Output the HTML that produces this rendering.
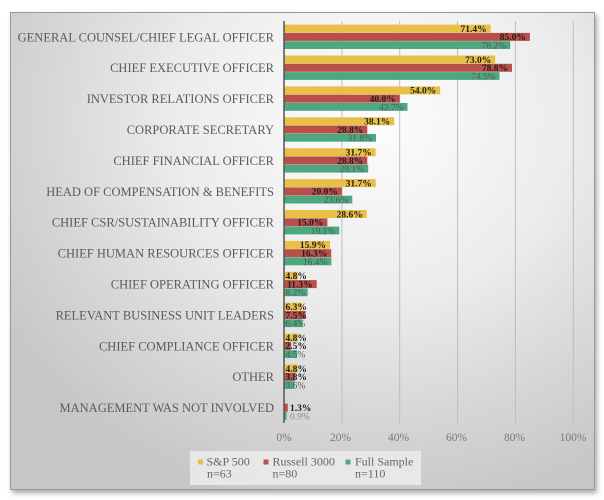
<!DOCTYPE html>
<html><head><meta charset="utf-8"><style>
html,body{margin:0;padding:0;width:604px;height:500px;background:#fff;overflow:hidden}
#frame{position:absolute;left:10px;top:12px;width:583px;height:476px;border:1px solid #999;
background:radial-gradient(ellipse 75% 85% at 62% 22%,#fdfdfd 0%,#ececec 45%,#d6d6d6 75%,#c6c6c6 100%);
box-shadow:2px 3px 5px rgba(0,0,0,0.35)}
svg{position:absolute;left:0;top:0}
.cat{font-family:"Liberation Serif",serif;font-size:12.5px;fill:#5a5a5a;text-anchor:end}
.v{font-family:"Liberation Serif",serif;font-size:9.5px;font-weight:bold;fill:#1e1e1e}
.g{font-family:"Liberation Serif",serif;font-size:9.5px;fill:#4e5a56}
.e{text-anchor:end}
.tick{font-family:"Liberation Serif",serif;font-size:11.5px;fill:#7a7a7a;text-anchor:middle}
.leg{font-family:"Liberation Serif",serif;font-size:12px;fill:#666}
</style></head><body>
<div id="frame"></div>
<svg width="604" height="500" viewBox="0 0 604 500">
<g stroke="#bdbdbd" stroke-width="1">
<line x1="341.9" y1="21" x2="341.9" y2="423"/>
<line x1="399.7" y1="21" x2="399.7" y2="423"/>
<line x1="457.6" y1="21" x2="457.6" y2="423"/>
<line x1="515.4" y1="21" x2="515.4" y2="423"/>
<line x1="573.3" y1="21" x2="573.3" y2="423"/>
</g>

<!-- group 0 -->
<g transform="translate(0,37)">
<text class="cat" x="274" y="4.3">GENERAL COUNSEL/CHIEF LEGAL OFFICER</text>
<rect x="284" y="-12.4" width="206.6" height="8" fill="#E9C047"/>
<rect x="284" y="-4.1" width="245.9" height="8" fill="#B94F4B"/>
<rect x="284" y="4.2" width="226.2" height="7.8" fill="#4DA880"/>
<text class="v e" x="486.6" y="-5.1">71.4%</text>
<text class="v e" x="525.9" y="3.2">85.0%</text>
<text class="g e" x="506.2" y="11.5">78.2%</text>
</g>
<!-- group 1 -->
<g transform="translate(0,67.9)">
<text class="cat" x="274" y="4.3">CHIEF EXECUTIVE OFFICER</text>
<rect x="284" y="-12.4" width="211.2" height="8" fill="#E9C047"/>
<rect x="284" y="-4.1" width="228" height="8" fill="#B94F4B"/>
<rect x="284" y="4.2" width="215.5" height="7.8" fill="#4DA880"/>
<text class="v e" x="491.2" y="-5.1">73.0%</text>
<text class="v e" x="508" y="3.2">78.8%</text>
<text class="g e" x="495.5" y="11.5">74.5%</text>
</g>
<!-- group 2 -->
<g transform="translate(0,98.8)">
<text class="cat" x="274" y="4.3">INVESTOR RELATIONS OFFICER</text>
<rect x="284" y="-12.4" width="156.2" height="8" fill="#E9C047"/>
<rect x="284" y="-4.1" width="115.7" height="8" fill="#B94F4B"/>
<rect x="284" y="4.2" width="123.5" height="7.8" fill="#4DA880"/>
<text class="v e" x="436.2" y="-5.1">54.0%</text>
<text class="v e" x="395.7" y="3.2">40.0%</text>
<text class="g e" x="403.5" y="11.5">42.7%</text>
</g>
<!-- group 3 -->
<g transform="translate(0,129.7)">
<text class="cat" x="274" y="4.3">CORPORATE SECRETARY</text>
<rect x="284" y="-12.4" width="110.2" height="8" fill="#E9C047"/>
<rect x="284" y="-4.1" width="83.3" height="8" fill="#B94F4B"/>
<rect x="284" y="4.2" width="92" height="7.8" fill="#4DA880"/>
<text class="v e" x="390.2" y="-5.1">38.1%</text>
<text class="v e" x="363.3" y="3.2">28.8%</text>
<text class="g e" x="372" y="11.5">31.8%</text>
</g>
<!-- group 4 -->
<g transform="translate(0,160.6)">
<text class="cat" x="274" y="4.3">CHIEF FINANCIAL OFFICER</text>
<rect x="284" y="-12.4" width="91.7" height="8" fill="#E9C047"/>
<rect x="284" y="-4.1" width="83.3" height="8" fill="#B94F4B"/>
<rect x="284" y="4.2" width="84.2" height="7.8" fill="#4DA880"/>
<text class="v e" x="371.7" y="-5.1">31.7%</text>
<text class="v e" x="363.3" y="3.2">28.8%</text>
<text class="g e" x="364.2" y="11.5">29.1%</text>
</g>
<!-- group 5 -->
<g transform="translate(0,191.5)">
<text class="cat" x="274" y="4.3">HEAD OF COMPENSATION &amp; BENEFITS</text>
<rect x="284" y="-12.4" width="91.7" height="8" fill="#E9C047"/>
<rect x="284" y="-4.1" width="57.9" height="8" fill="#B94F4B"/>
<rect x="284" y="4.2" width="68.3" height="7.8" fill="#4DA880"/>
<text class="v e" x="371.7" y="-5.1">31.7%</text>
<text class="v e" x="337.9" y="3.2">20.0%</text>
<text class="g e" x="348.3" y="11.5">23.6%</text>
</g>
<!-- group 6 -->
<g transform="translate(0,222.4)">
<text class="cat" x="274" y="4.3">CHIEF CSR/SUSTAINABILITY OFFICER</text>
<rect x="284" y="-12.4" width="82.7" height="8" fill="#E9C047"/>
<rect x="284" y="-4.1" width="43.4" height="8" fill="#B94F4B"/>
<rect x="284" y="4.2" width="55.3" height="7.8" fill="#4DA880"/>
<text class="v e" x="362.7" y="-5.1">28.6%</text>
<text class="v e" x="323.4" y="3.2">15.0%</text>
<text class="g e" x="335.3" y="11.5">19.1%</text>
</g>
<!-- group 7 -->
<g transform="translate(0,253.3)">
<text class="cat" x="274" y="4.3">CHIEF HUMAN RESOURCES OFFICER</text>
<rect x="284" y="-12.4" width="46" height="8" fill="#E9C047"/>
<rect x="284" y="-4.1" width="47.2" height="8" fill="#B94F4B"/>
<rect x="284" y="4.2" width="47.4" height="7.8" fill="#4DA880"/>
<text class="v e" x="326" y="-5.1">15.9%</text>
<text class="v e" x="327.2" y="3.2">16.3%</text>
<text class="g e" x="327.4" y="11.5">16.4%</text>
</g>
<!-- group 8 -->
<g transform="translate(0,284.2)">
<text class="cat" x="274" y="4.3">CHIEF OPERATING OFFICER</text>
<rect x="284" y="-12.4" width="13.9" height="8" fill="#E9C047"/>
<rect x="284" y="-4.1" width="32.7" height="8" fill="#B94F4B"/>
<rect x="284" y="4.2" width="23.7" height="7.8" fill="#4DA880"/>
<text class="v" x="285.5" y="-5.1">4.8%</text>
<text class="v e" x="312.7" y="3.2">11.3%</text>
<text class="g" x="285.5" y="11.5">8.2%</text>
</g>
<!-- group 9 -->
<g transform="translate(0,315.1)">
<text class="cat" x="274" y="4.3">RELEVANT BUSINESS UNIT LEADERS</text>
<rect x="284" y="-12.4" width="18.2" height="8" fill="#E9C047"/>
<rect x="284" y="-4.1" width="21.7" height="8" fill="#B94F4B"/>
<rect x="284" y="4.2" width="18.5" height="7.8" fill="#4DA880"/>
<text class="v" x="285.5" y="-5.1">6.3%</text>
<text class="v" x="285.5" y="3.2">7.5%</text>
<text class="g" x="285.5" y="11.5">6.4%</text>
</g>
<!-- group 10 -->
<g transform="translate(0,346)">
<text class="cat" x="274" y="4.3">CHIEF COMPLIANCE OFFICER</text>
<rect x="284" y="-12.4" width="13.9" height="8" fill="#E9C047"/>
<rect x="284" y="-4.1" width="7.2" height="8" fill="#B94F4B"/>
<rect x="284" y="4.2" width="13" height="7.8" fill="#4DA880"/>
<text class="v" x="285.5" y="-5.1">4.8%</text>
<text class="v" x="285.5" y="3.2">2.5%</text>
<text class="g" x="285.5" y="11.5">4.5%</text>
</g>
<!-- group 11 -->
<g transform="translate(0,376.9)">
<text class="cat" x="274" y="4.3">OTHER</text>
<rect x="284" y="-12.4" width="13.9" height="8" fill="#E9C047"/>
<rect x="284" y="-4.1" width="11" height="8" fill="#B94F4B"/>
<rect x="284" y="4.2" width="10.4" height="7.8" fill="#4DA880"/>
<text class="v" x="285.5" y="-5.1">4.8%</text>
<text class="v" x="285.5" y="3.2">3.8%</text>
<text class="g" x="285.5" y="11.5">3.6%</text>
</g>
<!-- group 12 -->
<g transform="translate(0,407.8)">
<text class="cat" x="274" y="4.3">MANAGEMENT WAS NOT INVOLVED</text>
<rect x="284" y="-4.1" width="3.8" height="8" fill="#B94F4B"/>
<rect x="284" y="4.2" width="2.6" height="7.8" fill="#4DA880"/>
<text class="v" x="290" y="3.2">1.3%</text>
<text class="g" x="290" y="11.5" style="fill:#888">0.9%</text>
</g>

<line x1="284" y1="21" x2="284" y2="423" stroke="#555" stroke-width="1.5"/>

<text class="tick" x="284" y="441">0%</text>
<text class="tick" x="340.5" y="441">20%</text>
<text class="tick" x="398.5" y="441">40%</text>
<text class="tick" x="456.5" y="441">60%</text>
<text class="tick" x="514.5" y="441">80%</text>
<text class="tick" x="573" y="441">100%</text>

<rect x="190" y="451" width="231" height="34" fill="#ececec" fill-opacity="0.85"/>
<rect x="198" y="459.5" width="5" height="5" fill="#E9C047"/>
<text class="leg" x="206.5" y="465.5">S&amp;P 500</text>
<text class="leg" x="207" y="477.5">n=63</text>
<rect x="263.5" y="459.5" width="5" height="5" fill="#B94F4B"/>
<text class="leg" x="272.5" y="465.5">Russell 3000</text>
<text class="leg" x="272.5" y="477.5">n=80</text>
<rect x="345.5" y="459.5" width="5" height="5" fill="#4DA880"/>
<text class="leg" x="355" y="465.5">Full Sample</text>
<text class="leg" x="355" y="477.5">n=110</text>
</svg>
</body></html>
